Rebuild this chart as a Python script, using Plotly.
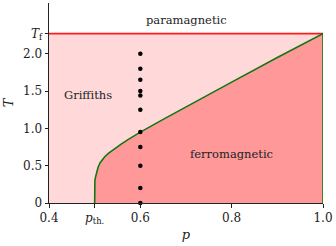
import plotly.graph_objects as go

# data
T_f = 2.269
p_th = 0.5
curve_p = [0.5, 0.5, 0.5005, 0.502, 0.504, 0.5075, 0.512, 0.517, 0.522, 0.53, 0.544, 0.558, 0.573,
           0.6, 0.65, 0.7, 0.8, 0.9, 1.0]
curve_T = [0.0, 0.22, 0.30, 0.35, 0.41, 0.48, 0.54, 0.585, 0.62, 0.665, 0.73, 0.79, 0.85,
           0.95, 1.12, 1.29, 1.62, 1.95, 2.269]
dots_p = [0.6] * 11
dots_T = [0.0, 0.2, 0.5, 0.75, 0.95, 1.25, 1.44, 1.5, 1.65, 1.8, 2.0]
x_ticks = [0.4, p_th, 0.6, 0.8, 1.0]
x_ticklabels = ["0.4", "<i>p</i><sub>th.</sub>", "0.6", "0.8", "1.0"]
y_ticks = [0, 0.5, 1.0, 1.5, 2.0, T_f]
y_ticklabels = ["0", "0.5", "1.0", "1.5", "2.0", "<i>T</i><sub>f</sub>"]
labels = [("paramagnetic", 0.7, 2.45), ("Griffiths", 0.485, 1.45), ("ferromagnetic", 0.8, 0.65)]

FONT = "DejaVu Serif, Liberation Serif, serif"
fig = go.Figure()
fig.add_trace(go.Scatter(x=[0.4, 1.0, 1.0, 0.4], y=[0, 0, T_f, T_f], fill="toself",
                         fillcolor="#FFD9D9", line=dict(width=0), mode="lines", hoverinfo="skip"))
fig.add_trace(go.Scatter(x=curve_p + [1.0, p_th], y=curve_T + [0, 0], fill="toself",
                         fillcolor="#FF9999", line=dict(width=0), mode="lines", hoverinfo="skip"))
fig.add_trace(go.Scatter(x=[0.4, 1.0], y=[T_f, T_f], mode="lines", line=dict(color="#FF1a1a", width=1.6)))
fig.add_trace(go.Scatter(x=curve_p + [1.0], y=curve_T + [0], mode="lines",
                         line=dict(color="#117711", width=1.6)))
fig.add_trace(go.Scatter(x=dots_p, y=dots_T, mode="markers", marker=dict(color="black", size=4.5),
                         cliponaxis=False))

for txt, x, y in labels:
    fig.add_annotation(x=x, y=y, text=txt, showarrow=False, font=dict(family=FONT, size=11.5, color="#222"))

fig.update_layout(
    width=336, height=246, margin=dict(l=49, r=13, t=3, b=43, autoexpand=False),
    plot_bgcolor="white", paper_bgcolor="white", showlegend=False,
    font=dict(family=FONT, size=12, color="#222"),
)
fig.update_xaxes(range=[0.4, 1.0], tickvals=x_ticks, ticktext=x_ticklabels, ticks="outside",
                 ticklen=3.5, tickcolor="#222", showline=True, linecolor="#222", linewidth=1,
                 showgrid=False, zeroline=False, automargin=False,
                 title=dict(text="<i>p</i>", standoff=4, font=dict(size=13)))
fig.update_yaxes(range=[0, 2.68], tickvals=y_ticks, ticktext=y_ticklabels, ticks="outside",
                 ticklen=3.5, tickcolor="#222", showline=True, linecolor="#222", linewidth=1,
                 showgrid=False, zeroline=False, automargin=False,
                 title=dict(text="<i>T</i>", standoff=6, font=dict(size=13)))
fig.write_html("out.html", config={"displayModeBar": False},
               post_script="document.body.style.margin='0';")
